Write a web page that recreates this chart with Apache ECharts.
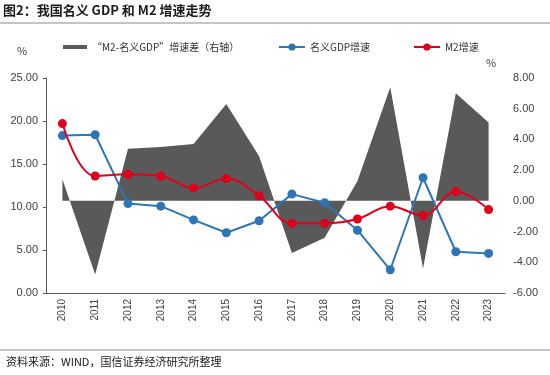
<!DOCTYPE html>
<html>
<head>
<meta charset="utf-8">
<script src="https://cdn.jsdelivr.net/npm/echarts@6/dist/echarts.min.js"></script>
<style>
  html, body { margin: 0; padding: 0; background: #fff; }
  #chart { width: 550px; height: 375px; }
</style>
</head>
<body>
<div id="chart"></div>
<script>
// data
const years = ['2010', '2011', '2012', '2013', '2014', '2015', '2016', '2017', '2018', '2019', '2020', '2021', '2022', '2023'];
const gdpGrowth = [18.3, 18.4, 10.4, 10.1, 8.5, 7.0, 8.4, 11.5, 10.5, 7.3, 2.7, 13.4, 4.8, 4.6];
const m2Growth = [19.7, 13.6, 13.8, 13.6, 12.2, 13.3, 11.3, 8.1, 8.1, 8.6, 10.1, 9.0, 11.8, 9.7];
const spread = [1.4, -4.8, 3.4, 3.5, 3.7, 6.3, 2.9, -3.4, -2.4, 1.3, 7.4, -4.4, 7.0, 5.1];

const names = ['“M2-名义GDP”增速差（右轴）', '名义GDP增速', 'M2增速'];
const cjk = '"Noto Sans CJK SC", "Liberation Sans", sans-serif';

const chart = echarts.init(document.getElementById('chart'));

const option = {
  animation: false,
  textStyle: { fontFamily: cjk },
  grid: { left: 46, right: 45, top: 78, bottom: 82 },
  graphic: [
    { type: 'text', left: 3, top: 4, style: { text: '图2：我国名义 GDP 和 M2 增速走势', font: 'bold 13px ' + cjk, fill: '#1a1a1a' } },
    { type: 'line', shape: { x1: 0, y1: 23, x2: 550, y2: 23 }, style: { stroke: '#8c8c8c', lineWidth: 1 } },
    { type: 'text', left: 17, top: 45, style: { text: '%', font: '11px ' + cjk, fill: '#404040' } },
    { type: 'text', left: 486, top: 57, style: { text: '%', font: '11px ' + cjk, fill: '#404040' } },
    { type: 'line', shape: { x1: 0, y1: 350, x2: 550, y2: 350 }, style: { stroke: '#8c8c8c', lineWidth: 1 } },
    { type: 'text', left: 6, top: 356, style: { text: '资料来源：WIND，国信证券经济研究所整理', font: '11px ' + cjk, fill: '#1a1a1a' } }
  ],
  legend: [
    {
      left: 58, top: 37, itemWidth: 24, itemHeight: 4, itemGap: 0,
      data: [{ name: names[0], icon: 'rect' }],
      textStyle: { fontSize: 10, color: '#333' }
    },
    {
      left: 273, top: 37, itemWidth: 26, itemHeight: 9,
      data: [names[1]],
      textStyle: { fontSize: 10, color: '#333' }
    },
    {
      left: 408, top: 37, itemWidth: 26, itemHeight: 9,
      data: [names[2]],
      textStyle: { fontSize: 10, color: '#333' }
    }
  ],
  xAxis: {
    type: 'category',
    data: years,
    boundaryGap: true,
    axisLine: { lineStyle: { color: '#595959' } },
    axisTick: { inside: true, length: 4, lineStyle: { color: '#595959' } },
    axisLabel: { rotate: 90, fontSize: 10, color: '#404040', margin: 6, fontFamily: 'Liberation Sans' }
  },
  yAxis: [
    {
      type: 'value', min: 0, max: 25, interval: 5,
      axisLine: { show: true, lineStyle: { color: '#595959' } },
      axisTick: { show: true, length: 3, lineStyle: { color: '#595959' } },
      splitLine: { show: false },
      axisLabel: { color: '#404040', fontSize: 11, fontFamily: 'Liberation Sans', formatter: v => v.toFixed(2) }
    },
    {
      type: 'value', min: -6, max: 8, interval: 2,
      axisLine: { show: false },
      axisTick: { show: false },
      splitLine: { show: false },
      axisLabel: { color: '#404040', fontSize: 11, fontFamily: 'Liberation Sans', margin: 8, formatter: v => v.toFixed(2) }
    }
  ],
  series: [
    {
      name: names[0], type: 'line', yAxisIndex: 1, data: spread,
      symbol: 'none', lineStyle: { width: 0 },
      itemStyle: { color: '#595959' },
      areaStyle: { color: '#595959', opacity: 1 }, z: 1
    },
    {
      name: names[1], type: 'line', data: gdpGrowth,
      symbol: 'circle', symbolSize: 9,
      lineStyle: { width: 2, color: '#2e75b6' },
      itemStyle: { color: '#2e75b6' }, z: 3
    },
    {
      name: names[2], type: 'line', data: m2Growth, smooth: 0.4,
      symbol: 'circle', symbolSize: 9,
      lineStyle: { width: 2, color: '#e0001b' },
      itemStyle: { color: '#e0001b' }, z: 4
    }
  ]
};

chart.setOption(option);
</script>
</body>
</html>
